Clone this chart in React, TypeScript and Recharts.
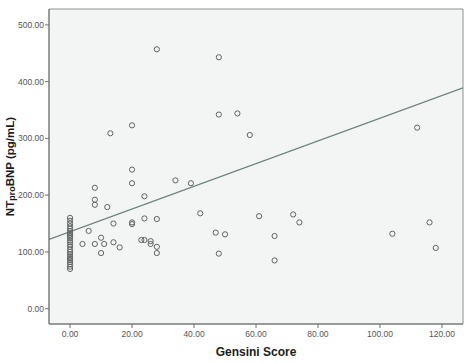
import React from "react";
import {
  ScatterChart,
  Scatter,
  XAxis,
  YAxis,
  ReferenceArea,
} from "recharts";

// Gensini score vs NTproBNP (pg/mL)
const zeroGroupY = [
  160, 155, 150, 145, 141, 137, 133, 130, 127, 124, 120, 117, 113, 109, 104,
  100, 96, 92, 89, 86, 82, 78, 74, 70,
];

const scoreX = [
  28, 48, 48, 54, 13, 20, 20, 58, 112, 8, 8, 8, 12, 20, 24, 34, 39, 42, 14, 20,
  20, 24, 28, 6, 4, 8, 10, 11, 10, 14, 16, 23, 24, 26, 26, 28, 28, 47, 50, 48,
  61, 72, 74, 66, 66, 104, 116, 118,
];
const bnpY = [
  457, 443, 342, 344, 309, 323, 245, 306, 319, 213, 192, 183, 179, 221, 198,
  226, 221, 168, 150, 152, 149, 159, 158, 137, 114, 114, 125, 114, 98, 117,
  108, 121, 121, 119, 114, 109, 98, 134, 131, 97, 163, 166, 152, 128, 85, 132,
  152, 107,
];

// regression line end points at the plot edges
const fitX = [-6.8, 126.8];
const fitY = [122, 389];

const xTicks = [0, 20, 40, 60, 80, 100, 120];
const yTicks = [0, 100, 200, 300, 400, 500];
const xDomain: [number, number] = [-6.8, 126.8];
const yDomain: [number, number] = [-27, 528];

const points = [
  ...zeroGroupY.map((y) => ({ x: 0, y })),
  ...scoreX.map((x, i) => ({ x, y: bnpY[i] })),
];
const fit = fitX.map((x, i) => ({ x, y: fitY[i] }));

const font = "'Liberation Sans', Arial, sans-serif";

const OpenCircle = (props: any) => (
  <circle
    cx={props.cx}
    cy={props.cy}
    r={2.6}
    fill="none"
    stroke="#5f6462"
    strokeWidth={1}
  />
);

const YLabel = (props: any) => {
  const vb = props.viewBox || {};
  const cx = (vb.x || 0) + 10;
  const cy = (vb.y || 0) + (vb.height || 0) / 2;
  return (
    <text
      x={cx}
      y={cy}
      transform={`rotate(-90, ${cx}, ${cy})`}
      textAnchor="middle"
      dominantBaseline="central"
      fontFamily={font}
      fontWeight="bold"
      fontSize={11.5}
      fill="#1c1c1c"
    >
      NT
      <tspan fontSize={9} dy={1.5}>
        pro
      </tspan>
      <tspan dy={-1.5}>BNP (pg/mL)</tspan>
    </text>
  );
};

export default function App() {
  return (
    <div
      style={{
        position: "absolute",
        left: 0,
        top: 0,
        width: 475,
        height: 363,
        background: "#fff",
      }}
    >
      <ScatterChart
        width={475}
        height={363}
        margin={{ top: 9, right: 12, bottom: 0, left: 0 }}
      >
        <XAxis
          type="number"
          dataKey="x"
          domain={xDomain}
          ticks={xTicks}
          allowDataOverflow
          tickFormatter={(v: number) => v.toFixed(2)}
          height={39}
          tickSize={4}
          tickMargin={3}
          axisLine={{ stroke: "#6d716f" }}
          tickLine={{ stroke: "#6d716f" }}
          tick={{ fontSize: 8.5, fill: "#555", fontFamily: font }}
          label={{
            value: "Gensini Score",
            position: "insideBottom",
            offset: 7,
            fontSize: 12,
            fontWeight: "bold",
            fill: "#1c1c1c",
            fontFamily: font,
          }}
        />
        <YAxis
          type="number"
          dataKey="y"
          domain={yDomain}
          ticks={yTicks}
          allowDataOverflow
          tickFormatter={(v: number) => v.toFixed(2)}
          width={49}
          tickSize={4}
          tickMargin={1}
          axisLine={{ stroke: "#6d716f" }}
          tickLine={{ stroke: "#6d716f" }}
          tick={{ fontSize: 8.5, fill: "#555", fontFamily: font }}
          label={<YLabel />}
        />
        <ReferenceArea
          x1={xDomain[0]}
          x2={xDomain[1]}
          y1={yDomain[0]}
          y2={yDomain[1]}
          fill="#f2f5f4"
          fillOpacity={1}
          stroke="#8c9290"
          strokeWidth={1}
        />
        <Scatter
          data={fit}
          line={{ stroke: "#6b7f7a", strokeWidth: 1.2 }}
          shape={() => null}
          isAnimationActive={false}
        />
        <Scatter
          data={points}
          shape={<OpenCircle />}
          isAnimationActive={false}
        />
      </ScatterChart>
    </div>
  );
}
